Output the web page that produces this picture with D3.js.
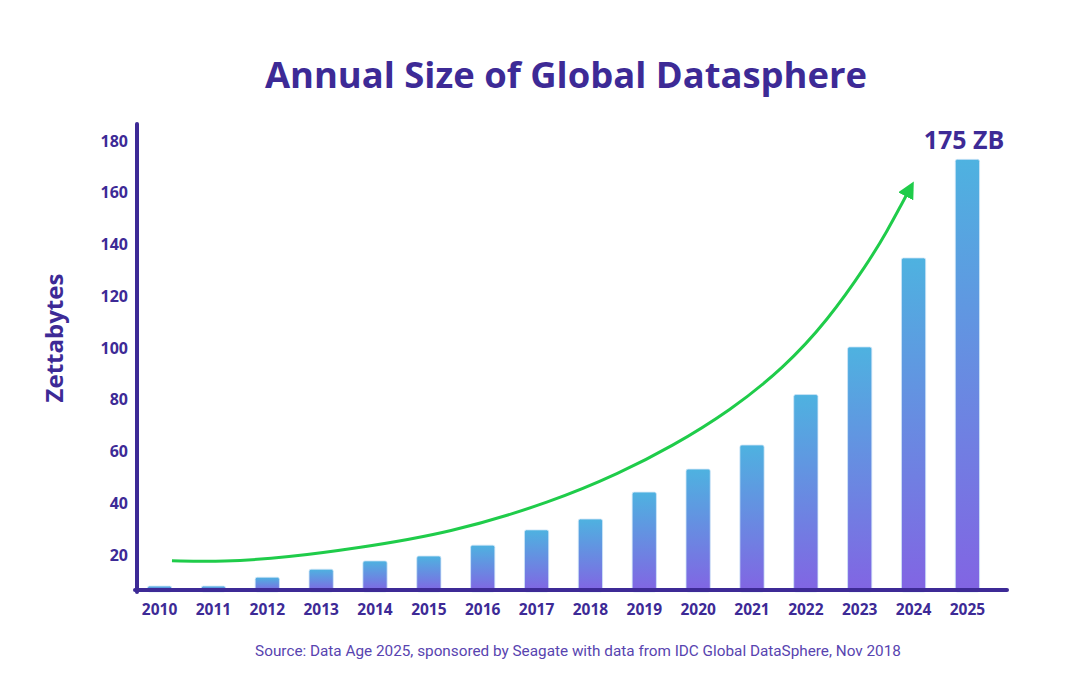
<head>
    <meta charset="utf-8">
    <style> body { margin: 0; background: #ffffff; } </style>
    <script src="https://cdn.jsdelivr.net/npm/d3@7"></script>
</head>
<body>
<div id="chart"></div>
<script>
    var years = ["2010","2011","2012","2013","2014","2015","2016","2017","2018","2019","2020","2021","2022","2023","2024","2025"];
    var zettabytes = [8, 8, 11.4, 14.5, 17.7, 19.6, 23.8, 29.7, 33.9, 44.3, 53.2, 62.5, 82, 100.4, 134.8, 172.9];
    var yTicks = [20, 40, 60, 80, 100, 120, 140, 160, 180];
    // growth arrow: [year index, zettabytes]
    var arrowPts = [[0.23,17.8],[1.16,17.3],[2.4,19.1],[3.65,22.6],[5.38,28.4],[7.3,40.6],[8.55,51.7],[9.5,61.8],[10.6,75.8],[11.6,92.5],[12.4,110.5],[13.15,132.7],[13.52,145.6],[13.77,155.3],[13.93,161.5]];
    var baseValue = 6.5; // where the x axis line sits on the value scale

    var W = 1080, H = 692;
    var purple = "#3d2a96";

    var svg = d3.select("#chart").append("svg")
        .attr("width", W)
        .attr("height", H);

    var defs = svg.append("defs");

    var x = d3.scaleBand()
        .domain(years)
        .range([134, 993])
        .paddingInner(0.55)
        .paddingOuter(0.25);

    var y = d3.scaleLinear()
        .domain([0, 180])
        .range([606.75, 141]);

    var xi = d3.scaleLinear()
        .domain([0, years.length - 1])
        .range([x(years[0]) + x.bandwidth() / 2, x(years[years.length - 1]) + x.bandwidth() / 2]);

    // one gradient per bar, blue at the top fading to violet at the bottom
    years.forEach(function(yr, i) {
        var g = defs.append("linearGradient")
            .attr("id", "g" + i)
            .attr("x1", 0).attr("x2", 0).attr("y1", 0).attr("y2", 1);
        g.append("stop").attr("offset", "0%").attr("stop-color", "#4eb2e0");
        g.append("stop").attr("offset", "100%").attr("stop-color", "#8264e3");
    });

    // title
    svg.append("text")
        .attr("x", 566)
        .attr("y", 88)
        .attr("text-anchor", "middle")
        .attr("font-family", "'Open Sans', sans-serif")
        .attr("font-weight", 700)
        .attr("font-size", 36.4)
        .attr("fill", purple)
        .text("Annual Size of Global Datasphere");

    // bars
    svg.append("g")
        .selectAll("rect")
        .data(zettabytes)
        .enter()
        .append("rect")
        .attr("x", (d, i) => x(years[i]))
        .attr("y", d => y(d))
        .attr("width", x.bandwidth())
        .attr("height", d => y(baseValue) - y(d) + 2)
        .attr("rx", 2)
        .attr("fill", (d, i) => "url(#g" + i + ")")
        .attr("stroke", "#cfe6f7")
        .attr("stroke-width", 0.8);

    // axes
    var yAxis = svg.append("g")
        .attr("transform", "translate(137,0)")
        .call(d3.axisLeft(y).tickValues(yTicks).tickSize(0).tickPadding(9));
    yAxis.select(".domain").remove();
    yAxis.selectAll("text")
        .attr("font-family", "'Open Sans', sans-serif")
        .attr("font-weight", 700)
        .attr("font-size", 16)
        .attr("fill", purple);

    svg.append("line")
        .attr("x1", 137).attr("x2", 137)
        .attr("y1", 124).attr("y2", y(baseValue) + 2)
        .attr("stroke", purple)
        .attr("stroke-width", 4)
        .attr("stroke-linecap", "round");

    svg.append("line")
        .attr("x1", 135).attr("x2", 1007)
        .attr("y1", y(baseValue)).attr("y2", y(baseValue))
        .attr("stroke", purple)
        .attr("stroke-width", 4)
        .attr("stroke-linecap", "round");

    var xAxis = svg.append("g")
        .attr("transform", `translate(0,${y(baseValue)})`)
        .call(d3.axisBottom(x).tickSize(0).tickPadding(14));
    xAxis.select(".domain").remove();
    xAxis.selectAll("text")
        .attr("font-family", "'Open Sans', sans-serif")
        .attr("font-weight", 700)
        .attr("font-size", 15.5)
        .attr("fill", purple);

    // y label
    svg.append("text")
        .attr("transform", "translate(63,338) rotate(-90)")
        .attr("text-anchor", "middle")
        .attr("font-family", "'Open Sans', sans-serif")
        .attr("font-weight", 700)
        .attr("font-size", 24)
        .attr("fill", purple)
        .text("Zettabytes");

    // top value label
    svg.append("text")
        .attr("x", 964)
        .attr("y", 149)
        .attr("text-anchor", "middle")
        .attr("font-family", "'Open Sans', sans-serif")
        .attr("font-weight", 700)
        .attr("font-size", 25)
        .attr("fill", purple)
        .text("175 ZB");

    // arrow
    defs.append("marker")
        .attr("id", "head")
        .attr("viewBox", "0 0 10 10")
        .attr("refX", 5)
        .attr("refY", 5)
        .attr("markerUnits", "userSpaceOnUse")
        .attr("markerWidth", 17)
        .attr("markerHeight", 17)
        .attr("orient", "auto")
        .append("path")
        .attr("d", "M0,0 L10,5 L0,10 Z")
        .attr("fill", "#1fcc4a");

    var line = d3.line()
        .x(d => xi(d[0]))
        .y(d => y(d[1]))
        .curve(d3.curveBasis);

    svg.append("path")
        .datum(arrowPts)
        .attr("d", line)
        .attr("fill", "none")
        .attr("stroke", "#1fcc4a")
        .attr("stroke-width", 3)
        .attr("marker-end", "url(#head)");

    // source
    svg.append("text")
        .attr("x", 578)
        .attr("y", 656)
        .attr("text-anchor", "middle")
        .attr("font-family", "Roboto, sans-serif")
        .attr("font-weight", 400)
        .attr("font-size", 15.3)
        .attr("fill", "#5844b0")
        .text("Source: Data Age 2025, sponsored by Seagate with data from IDC Global DataSphere, Nov 2018");
</script>
</body>
